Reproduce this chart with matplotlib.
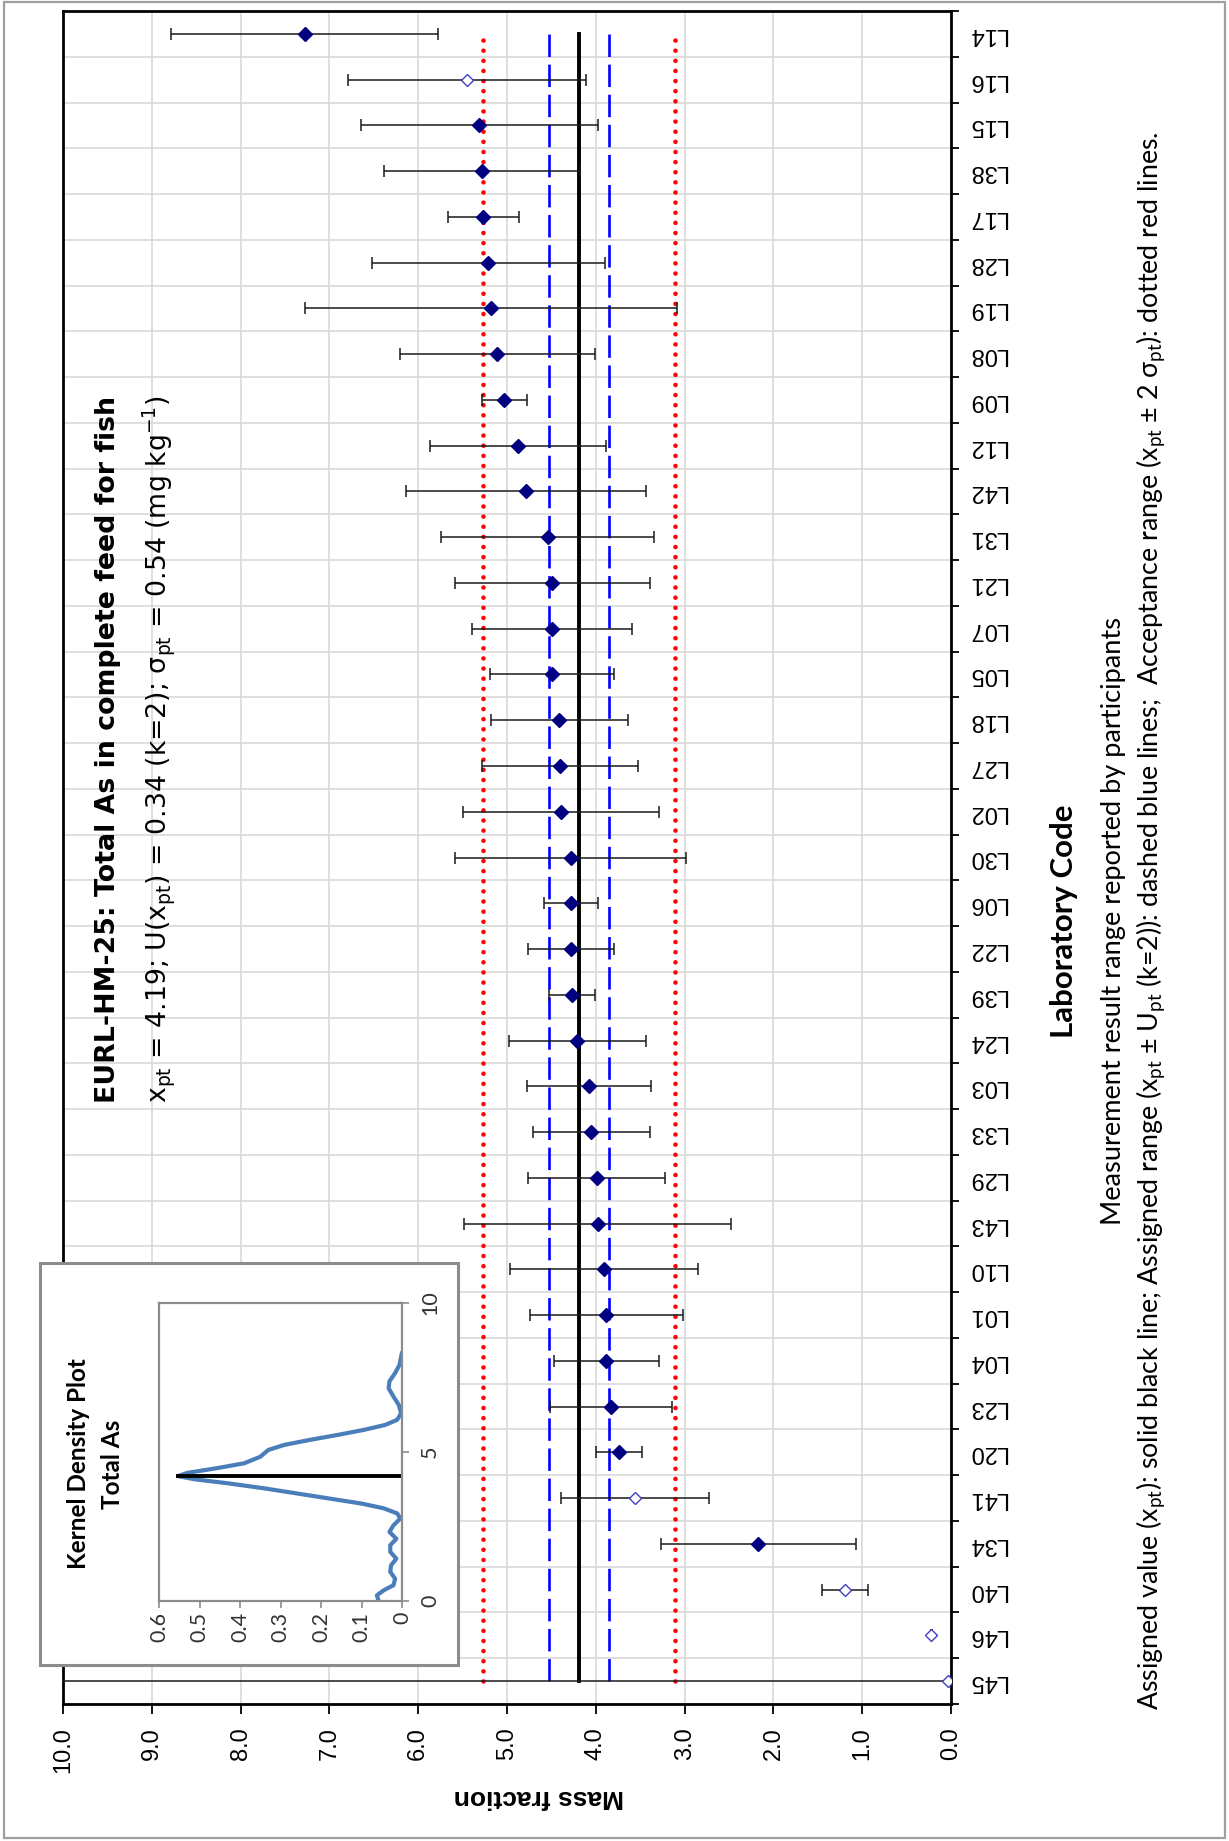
import numpy as np
import matplotlib
matplotlib.use("Agg")
import matplotlib.pyplot as plt
from matplotlib.patches import Rectangle

# ---- data -----------------------------------------------------------------
labs = ["L45", "L46", "L40", "L34", "L41", "L20", "L23", "L04", "L01", "L10",
        "L43", "L29", "L33", "L03", "L24", "L39", "L22", "L06", "L30", "L02",
        "L27", "L18", "L05", "L07", "L21", "L31", "L42", "L12", "L09", "L08",
        "L19", "L28", "L17", "L38", "L15", "L16", "L14"]
results = [0.03, 0.22, 1.19, 2.17, 3.56, 3.74, 3.83, 3.88, 3.88, 3.91,
           3.98, 3.99, 4.05, 4.08, 4.21, 4.27, 4.28, 4.28, 4.28, 4.39,
           4.40, 4.41, 4.49, 4.49, 4.49, 4.54, 4.79, 4.88, 5.03, 5.11,
           5.18, 5.21, 5.27, 5.28, 5.31, 5.45, 7.28]
uncert = [50.0, 0.01, 0.26, 1.10, 0.83, 0.26, 0.69, 0.59, 0.86, 1.06,
          1.50, 0.77, 0.66, 0.70, 0.77, 0.26, 0.48, 0.30, 1.30, 1.10,
          0.88, 0.77, 0.70, 0.90, 1.10, 1.20, 1.35, 0.99, 0.25, 1.10,
          2.10, 1.31, 0.40, 1.10, 1.33, 1.34, 1.50]
open_labs = ["L45", "L46", "L40", "L41", "L16"]

x_pt = 4.19
U_pt = 0.34
sigma_pt = 0.54

mass_ticks = [0.0, 1.0, 2.0, 3.0, 4.0, 5.0, 6.0, 7.0, 8.0, 9.0, 10.0]

# kernel density curve (mass fraction, density)
kde_value = [0.02, 0.19, 0.36, 0.53, 0.75, 0.98, 1.20, 1.42, 1.65, 1.87,
             2.09, 2.32, 2.54, 2.77, 2.94, 3.11, 3.27, 3.44, 3.61, 3.78,
             3.95, 4.08, 4.19, 4.30, 4.45, 4.62, 4.84, 5.07, 5.24, 5.40,
             5.57, 5.74, 5.91, 6.08, 6.30, 6.58, 6.86, 7.14, 7.37, 7.65,
             7.93, 8.21, 8.34]
kde_density = [0.058, 0.062, 0.045, 0.021, 0.017, 0.029, 0.027, 0.014, 0.029, 0.029,
               0.014, 0.031, 0.021, 0.004, 0.012, 0.045, 0.100, 0.180, 0.260, 0.340,
               0.430, 0.510, 0.553, 0.530, 0.460, 0.390, 0.350, 0.330, 0.290, 0.230,
               0.160, 0.095, 0.041, 0.012, 0.002, 0.008, 0.021, 0.033, 0.031, 0.017,
               0.006, 0.002, 0.000]
kde_ticks = [0, 0.1, 0.2, 0.3, 0.4, 0.5, 0.6]
kde_ticklabels = ["0", "0.1", "0.2", "0.3", "0.4", "0.5", "0.6"]

# ---- figure ---------------------------------------------------------------
W, H = 1229, 1841
fig = plt.figure(figsize=(W / 100, H / 100), dpi=100)


def fx(px):
    return px / W


def fy(py):
    return 1 - py / H


ARIAL = "Liberation Sans"
CAL = "Lato"

ax = fig.add_axes([fx(63), fy(1704), fx(951) - fx(63), fy(11) - fy(1704)])
n = len(labs)
ypos = np.arange(n)

ax.set_xlim(10, 0)
ax.set_ylim(-0.5, n - 0.5)

ax.set_xticks(mass_ticks)
ax.set_xticklabels([f"{v:.1f}" for v in mass_ticks], rotation=90,
                   fontsize=17, family=ARIAL)
ax.tick_params(axis="x", length=7, width=1.3, pad=10, direction="out")

ax.yaxis.tick_right()
ax.set_yticks(ypos)
ax.set_yticklabels(labs, rotation=180, fontsize=17, family=ARIAL)
for t in ax.get_yticklabels():
    t.set_va("center")
ax.set_yticks(np.arange(-0.5, n, 1.0), minor=True)
ax.tick_params(axis="y", which="major", length=0, pad=12)
ax.tick_params(axis="y", which="minor", length=6, width=1.3, direction="out")

ax.grid(which="minor", axis="y", color="#d9d9d9", lw=1.2)
ax.grid(which="major", axis="x", color="#d9d9d9", lw=1.2)
ax.set_axisbelow(True)
for s in ax.spines.values():
    s.set_color("black")
    s.set_linewidth(2.0)

# reference lines across all laboratories
ax.plot([x_pt] * n, ypos, color="black", lw=2.8, zorder=3)
for v in (x_pt + U_pt, x_pt - U_pt):
    ax.plot([v] * n, ypos, color="#0000ff", lw=1.9, dashes=(8.5, 2.9), zorder=3)
for v in (x_pt + 2 * sigma_pt, x_pt - 2 * sigma_pt):
    ax.plot([v] * n, ypos, color="#ff0000", lw=3.3, linestyle=(0, (0.01, 2.2)),
            dash_capstyle="round", zorder=3)

# laboratory results with expanded uncertainty
ax.errorbar(results, ypos, xerr=uncert, fmt="none", ecolor="#1a1a1a",
            elinewidth=1.1, capsize=4.5, capthick=1.1, zorder=4)
is_open = np.array([lab in open_labs for lab in labs])
res = np.array(results)
ax.plot(res[~is_open], ypos[~is_open], "D", color="#000080", ms=7.0, zorder=5)
ax.plot(res[is_open], ypos[is_open], "D", mfc="white", mec="#4040c0", mew=1.0,
        ms=5.8, zorder=5, linestyle="none")

# axis titles and captions
fig.text(fx(539), fy(1797), "Mass fraction", rotation=180, ha="center", va="center",
         fontsize=19, fontweight="bold", family=ARIAL)
fig.text(fx(108), fy(1103), "EURL-HM-25: Total As in complete feed for fish",
         rotation=90, rotation_mode="anchor", ha="left", va="center",
         fontsize=19.3, fontweight="bold", family="DejaVu Sans")
sub = (f"x$_{{\\mathrm{{pt}}}}$ = {x_pt:.2f}; U(x$_{{\\mathrm{{pt}}}}$) = {U_pt:.2f} (k=2); "
       f"σ$_{{\\mathrm{{pt}}}}$ = {sigma_pt:.2f} (mg kg$^{{-1}}$)")
fig.text(fx(159), fy(1103), sub, rotation=90, rotation_mode="anchor", ha="left",
         va="center", fontsize=19.3, family="DejaVu Sans", math_fontfamily="dejavusans")

plt.rcParams["mathtext.fontset"] = "custom"
plt.rcParams["mathtext.rm"] = CAL
plt.rcParams["mathtext.it"] = CAL + ":italic"
plt.rcParams["mathtext.bf"] = CAL + ":bold"

fig.text(fx(1064), fy(921), "Laboratory Code", rotation=90, ha="center", va="center",
         fontsize=22.5, fontweight="bold", family=CAL)
fig.text(fx(1113), fy(921), "Measurement result range reported by participants",
         rotation=90, ha="center", va="center", fontsize=19.6, family=CAL)
pt = "$_{\\mathrm{pt}}$"
caption = (f"Assigned value (x{pt}): solid black line; Assigned range (x{pt} ± U{pt} (k=2)): "
           f"dashed blue lines;  Acceptance range (x{pt} ± 2 σ{pt}): dotted red lines.")
fig.text(fx(1151), fy(921), caption, rotation=90, ha="center", va="center",
         fontsize=19.3, family=CAL, math_fontfamily="custom")

# ---- kernel density inset -------------------------------------------------
box = Rectangle((fx(40), fy(1665)), fx(458) - fx(40), fy(1263) - fy(1665),
                transform=fig.transFigure, facecolor="white", edgecolor="#8c8c8c",
                lw=2.2, zorder=10)
fig.patches.append(box)

ax2 = fig.add_axes([fx(159), fy(1601), fx(402) - fx(159), fy(1303) - fy(1601)])
ax2.set_zorder(11)
ax2.plot(kde_density, kde_value, color="#4a7ebb", lw=3.0, solid_joinstyle="round",
         solid_capstyle="round")
ax2.plot([0, max(kde_density)], [x_pt, x_pt], color="black", lw=2.8)
ax2.set_xlim(0.6, 0)
ax2.set_ylim(0, 10)
ax2.set_xticks(kde_ticks)
ax2.set_xticklabels(kde_ticklabels, rotation=90, fontsize=15.5, family=CAL, color="#333333")
ax2.set_yticks([0, 5, 10])
ax2.yaxis.tick_right()
ax2.set_yticklabels(["0", "5", "10"], rotation=90, fontsize=15.5, family=CAL,
                    color="#333333", va="center")
ax2.tick_params(axis="x", length=5, width=1.2, color="#8c8c8c", pad=3)
ax2.tick_params(axis="y", length=5, width=1.2, color="#8c8c8c", pad=8)
for s in ax2.spines.values():
    s.set_color("#8c8c8c")
    s.set_linewidth(1.6)

fig.text(fx(79), fy(1464), "Kernel Density Plot", rotation=90, ha="center", va="center",
         fontsize=17.5, fontweight="bold", family=CAL, zorder=12)
fig.text(fx(112), fy(1464), "Total As", rotation=90, ha="center", va="center",
         fontsize=17.5, fontweight="bold", family=CAL, zorder=12)

# outer frame
fig.patches.append(Rectangle((fx(4), fy(1838)), fx(1225) - fx(4), fy(2) - fy(1838),
                             transform=fig.transFigure, fill=False,
                             edgecolor="#a0a0a0", lw=1.6, zorder=1))

fig.savefig("out.png", dpi=100, facecolor="white")
